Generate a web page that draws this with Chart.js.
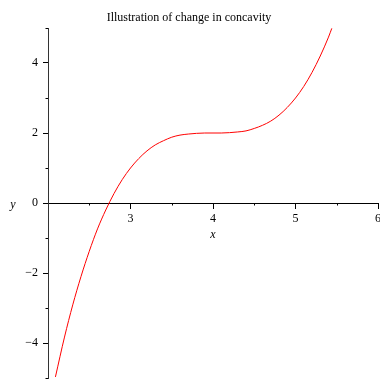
<!DOCTYPE html>
<html>
<head>
<meta charset="utf-8">
<script src="https://cdn.jsdelivr.net/npm/chart.js@4/dist/chart.umd.min.js"></script>
<style>
  html, body { margin: 0; padding: 0; background: #fff; }
  #wrap { width: 380px; height: 379px; }
</style>
</head>
<body>
<div id="wrap"><canvas id="myChart"></canvas></div>
<script>
// curve, x and y
const xs = [2.09, 2.2, 2.3, 2.4, 2.5, 2.6, 2.7, 2.8, 2.9, 3.0, 3.1, 3.2, 3.3, 3.4, 3.5, 3.6, 3.7, 3.8, 3.9,
  4.0, 4.1, 4.2, 4.3, 4.4, 4.5, 4.6, 4.7, 4.8, 4.9, 5.0, 5.1, 5.2, 5.3, 5.4, 5.44];
const ys = [-4.97, -3.83, -2.91, -2.10, -1.38, -0.74, -0.20, 0.27, 0.67, 1.00, 1.27, 1.49, 1.66, 1.78, 1.88, 1.94, 1.97, 1.99, 2.00,
  2.00, 2.00, 2.01, 2.03, 2.06, 2.13, 2.22, 2.34, 2.51, 2.73, 3.00, 3.33, 3.73, 4.20, 4.74, 4.99];
const xTicks = [3, 4, 5, 6];
const yTicks = [-4, -2, 0, 2, 4];
const xMinor = [2.5, 3.5, 4.5, 5.5];
const yMinor = [-5, -3, -1, 1, 3, 5];

const serif = "'Liberation Serif', 'Times New Roman', serif";

// short minor ticks and the axis names
const extras = {
  id: "extras",
  afterDraw(chart) {
    const ctx = chart.ctx;
    const sx = chart.scales.x, sy = chart.scales.y;
    const y0 = sy.getPixelForValue(0);
    const x0 = sx.getPixelForValue(2);
    ctx.save();
    ctx.strokeStyle = "#000";
    ctx.lineWidth = 1;
    ctx.beginPath();
    xMinor.forEach(function (v) {
      const px = Math.round(sx.getPixelForValue(v)) + 0.5;
      ctx.moveTo(px, y0);
      ctx.lineTo(px, y0 + 2.5);
    });
    yMinor.forEach(function (v) {
      const py = Math.round(sy.getPixelForValue(v)) + 0.5;
      ctx.moveTo(x0, py);
      ctx.lineTo(x0 - 2.5, py);
    });
    ctx.stroke();
    ctx.fillStyle = "#000";
    ctx.font = "italic 12px " + serif;
    ctx.textAlign = "center";
    ctx.textBaseline = "middle";
    ctx.fillText("y", 13, y0 + 2);
    ctx.fillText("x", sx.getPixelForValue(4), y0 + 32);
    ctx.restore();
  }
};

const ctx = document.getElementById("myChart").getContext("2d");
const myChart = new Chart(ctx, {
  type: "scatter",
  data: {
    datasets: [
      {
        data: xs.map(function (x, i) { return { x: x, y: ys[i] }; }),
        showLine: true,
        borderColor: "#ff0000",
        borderWidth: 1,
        pointRadius: 0,
        cubicInterpolationMode: "monotone",
      },
    ],
  },
  plugins: [extras],
  options: {
    responsive: true,
    maintainAspectRatio: false,
    animation: false,
    layout: { padding: { left: 0, right: 2, top: 0, bottom: 1 } },
    plugins: {
      legend: { display: false },
      tooltip: { enabled: false },
      title: {
        display: true,
        text: "Illustration of change in concavity",
        color: "#000",
        font: { family: serif, size: 12, weight: "normal" },
        padding: { top: 11, bottom: 2.6 },
      },
    },
    scales: {
      x: {
        type: "linear",
        min: 2,
        max: 6,
        position: { y: 0 },
        afterFit: function (scale) { scale.height = 0; scale.paddingLeft = 0; scale.paddingRight = 0; },
        border: { display: true, color: "#000", width: 1 },
        grid: { display: true, drawOnChartArea: false, drawTicks: true, tickLength: 5, color: "#000",
          tickColor: function (c) { return c.tick && c.tick.value === 2 ? "rgba(0,0,0,0)" : "#000"; } },
        afterBuildTicks: function (scale) {
          scale.ticks = [2].concat(xTicks).map(function (v) { return { value: v }; });
        },
        ticks: {
          color: "#000",
          padding: 4,
          font: { family: serif, size: 12 },
          callback: function (v) { return v === 2 ? "" : String(v); },
        },
      },
      y: {
        type: "linear",
        min: -5,
        max: 5,
        position: "left",
        afterFit: function (scale) { scale.width = 48; scale.paddingTop = 0; scale.paddingBottom = 0; },
        border: { display: true, color: "#333", width: 1 },
        grid: { display: true, drawOnChartArea: false, drawTicks: true, tickLength: 5, color: "#000" },
        afterBuildTicks: function (scale) {
          scale.ticks = yTicks.map(function (v) { return { value: v }; });
        },
        ticks: {
          color: "#000",
          padding: 5,
          font: { family: serif, size: 12 },
          callback: function (v) { return v < 0 ? "\u2212" + Math.abs(v) : String(v); },
        },
      },
    },
  },
});
</script>
</body>
</html>
